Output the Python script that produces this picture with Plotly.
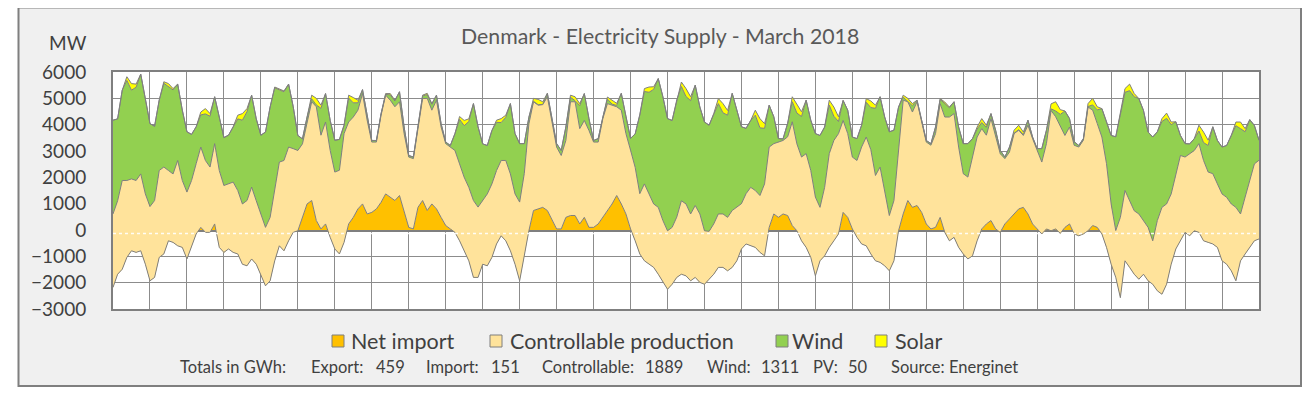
import plotly.graph_objects as go

# hour of month (3-hourly readings, 0..744)
hours = list(range(0, 745, 3))

net_import = [
 -2180, -1680, -1490, -1040, -790, -850, -790, -1300,
 -1930, -1800, -1040, -910, -410, -470, -600, -660,
 -1100, -660, -150, 100, -90, -90, 230, -660,
 -850, -720, -850, -910, -1300, -1360, -1100, -1300,
 -1680, -2120, -1930, -1170, -600, -790, -410, -90,
 -30, 480, 990, 1120, 360, 40, 230, -280,
 -720, -910, -470, 230, 480, 800, 990, 610,
 670, 800, 1050, 1370, 1250, 1120, 1310, 740,
 100, 40, 860, 1120, 740, 990, 800, 480,
 170, 40, -90, -410, -790, -1170, -1800, -1800,
 -1300, -1360, -1040, -530, -220, -410, -790, -1300,
 -1930, -910, -30, 740, 800, 860, 740, 360,
 40, 40, 480, 550, 550, 230, 480, 100,
 100, 230, 480, 740, 990, 1310, 990, 610,
 40, -410, -910, -1170, -1300, -1420, -1680, -1990,
 -2250, -2060, -1800, -1680, -1740, -1930, -1800, -1990,
 -2060, -1870, -1680, -1420, -1420, -1550, -1420, -1170,
 -720, -530, -600, -660, -850, -980, 100, 610,
 480, 610, 550, 170, -30, -410, -660, -1040,
 -1740, -1170, -980, -660, -410, -150, 670, 480,
 40, -280, -530, -600, -910, -1170, -1230, -1360,
 -1550, -1170, -30, 610, 1120, 860, 930, 670,
 230, 40, 100, 480, -90, -410, -280, -660,
 -910, -1100, -980, -410, 40, 230, 360, 40,
 -90, 230, 420, 610, 800, 860, 610, 230,
 40, -150, 40, -30, 40, -130, 100, 230,
 -150, -220, -150, -30, 170, 100, -150, -660,
 -1300, -1800, -2570, -1170, -1420, -1680, -1870, -1680,
 -1930, -2060, -2310, -2440, -2060, -1300, -720, -410,
 -90, -220, -30, -90, -410, -470, -530, -660,
 -1170, -1300, -1550, -1930, -1170, -910, -660, -410, -340]

controllable = [
 2790, 2790, 3370, 2920, 2730, 2730, 2920, 2670,
 2820, 2920, 3300, 3300, 2670, 2600, 3240, 2540,
 2540, 2540, 2670, 3050, 2730, 2480, 3050, 2920,
 2540, 2480, 2670, 2410, 2290, 2480, 2730, 2410,
 2290, 2220, 2410, 2790, 3180, 3430, 3560, 3180,
 3050, 2790, 3050, 3750, 4320, 3560, 3870, 3300,
 2920, 3180, 4130, 3870, 3810, 3750, 4190, 3560,
 2670, 2540, 3300, 3750, 3680, 3560, 3560, 2920,
 2670, 2670, 2990, 3870, 4260, 3560, 4130, 3430,
 3110, 3110, 3110, 2920, 2790, 2790, 2920, 2670,
 2410, 2730, 2790, 2790, 2860, 3050, 2920, 2670,
 2990, 3050, 4060, 4130, 3940, 3900, 4320, 3680,
 3110, 2790, 2920, 4320, 4320, 3620, 3680, 3680,
 3240, 3110, 3750, 4060, 3750, 3370, 3560, 3050,
 2990, 2790, 2290, 2920, 2670, 2410, 2540, 2350,
 2220, 2160, 2290, 2790, 2730, 2540, 2730, 2600,
 2030, 1820, 1910, 2030, 2030, 2030, 2160, 2030,
 1720, 1910, 2220, 2160, 2160, 2730, 3050, 2670,
 2860, 2790, 2990, 3940, 3300, 3180, 3560, 3300,
 2990, 2030, 2600, 3560, 3810, 3810, 3490, 3180,
 2730, 2920, 3680, 4130, 3960, 3240, 3620, 2860,
 2100, 2290, 3050, 4320, 3750, 3620, 3940, 3370,
 3110, 3180, 3560, 4320, 4380, 4700, 4700, 3810,
 3050, 3110, 3750, 3940, 3810, 3370, 3870, 3560,
 2990, 2480, 2540, 3050, 2990, 2730, 3370, 3240,
 2990, 2730, 3240, 4570, 4260, 4100, 3490, 3680,
 3370, 3370, 3560, 4700, 4380, 3940, 3680, 3180,
 2290, 1780, 3050, 2670, 2540, 2410, 2480, 2030,
 2030, 1650, 2670, 3300, 3050, 2670, 2860, 3240,
 2860, 3110, 3050, 3370, 3050, 2670, 2670, 2410,
 2540, 2540, 2540, 2790, 1780, 2160, 2540, 2920, 2990]

wind = [
 3560, 3110, 3430, 3800, 3370, 3540, 3790, 3560,
 3150, 2820, 2670, 3180, 3200, 3190, 2900, 2670,
 2290, 1750, 1400, 1220, 1770, 1930, 1780, 2030,
 1820, 1840, 2100, 2720, 3180, 3370, 3490, 3110,
 2990, 3620, 4190, 3780, 2740, 2610, 2390, 1590,
 570, 190, 250, 110, 70, 1020, 1080, 1140,
 1210, 1170, 320, 910, 540, 280, 150, 130,
 60, 60, 60, 30, 200, 220, 380, 250,
 60, 60, 60, 100, 140, 220, 190, 130,
 60, 60, 640, 1690, 1960, 2500, 3680, 3050,
 2160, 1840, 2030, 1830, 1440, 1640, 2670, 2290,
 2220, 1140, 250, 20, 20, 10, 130, 130,
 130, 190, 510, 170, 40, 870, 1020, 450,
 60, 130, 60, 170, 40, 50, 640, 640,
 450, 1270, 2990, 3510, 3860, 4350, 4890, 4700,
 4260, 4060, 4450, 4340, 4080, 4300, 4570, 4060,
 4130, 4030, 4190, 4190, 3840, 3880, 4450, 3680,
 2920, 2480, 2540, 2860, 2570, 2110, 1590, 1020,
 130, 60, 510, 760, 1170, 1540, 2030, 1910,
 2410, 2730, 2290, 1840, 920, 460, 760, 890,
 760, 830, 830, 1320, 1600, 2550, 2670, 2790,
 3180, 2670, 1650, 110, 10, 240, 60, 130,
 60, 60, 250, 160, 520, 350, 450, 760,
 1140, 1270, 700, 300, 230, 300, 190, 190,
 130, 60, 190, 20, 20, 30, 190, 60,
 60, 510, 510, 60, 220, 420, 930, 320,
 130, 60, 60, 20, 200, 520, 1080, 1590,
 2600, 3560, 3940, 3730, 4170, 4330, 4380, 4190,
 3620, 3940, 3370, 3260, 3250, 2630, 1970, 760,
 510, 380, 450, 480, 680, 1010, 1780, 1650,
 1780, 1970, 2600, 3100, 3240, 2480, 2310, 1460, 760]

solar = [
 0, 0, 0, 140, 250, 120, 0, 0,
 0, 0, 0, 60, 100, 50, 0, 0,
 0, 0, 0, 110, 200, 100, 0, 0,
 0, 0, 0, 140, 250, 120, 0, 0,
 0, 0, 0, 30, 50, 30, 0, 0,
 0, 0, 0, 140, 250, 120, 0, 0,
 0, 0, 0, 110, 200, 100, 0, 0,
 0, 0, 0, 30, 50, 30, 0, 0,
 0, 0, 0, 30, 50, 30, 0, 0,
 0, 0, 0, 110, 200, 100, 0, 0,
 0, 0, 0, 80, 150, 80, 0, 0,
 0, 0, 0, 110, 200, 100, 0, 0,
 0, 0, 0, 80, 150, 80, 0, 0,
 0, 0, 0, 80, 150, 80, 0, 0,
 0, 0, 0, 110, 200, 100, 0, 0,
 0, 0, 0, 170, 300, 150, 0, 0,
 0, 0, 0, 190, 350, 180, 0, 0,
 0, 0, 0, 190, 350, 180, 0, 0,
 0, 0, 0, 190, 350, 180, 0, 0,
 0, 0, 0, 190, 350, 180, 0, 0,
 0, 0, 0, 140, 250, 120, 0, 0,
 0, 0, 0, 80, 120, 80, 0, 0,
 0, 0, 0, 30, 50, 30, 0, 0,
 0, 0, 0, 80, 150, 80, 0, 0,
 0, 0, 0, 110, 170, 100, 0, 0,
 0, 0, 0, 190, 350, 180, 0, 0,
 0, 0, 0, 110, 250, 120, 0, 0,
 0, 0, 0, 140, 250, 120, 0, 0,
 0, 0, 0, 110, 200, 100, 0, 0,
 0, 0, 0, 220, 400, 200, 0, 0,
 0, 0, 0, 140, 250, 120, 0, 0,
 0]

series_names = ["Net import", "Controllable production", "Wind", "Solar"]
series_colors = ["#FFC000", "#FFE39B", "#92D050", "#FFFF00"]
title_text = "Denmark - Electricity Supply - March 2018"
footer_parts = ["Totals in GWh:", "Export:", "459", "Import:", "151", "Controllable:", "1889",
                "Wind:", "1311", "PV:", "50", "Source: Energinet"]
y_ticks = [-3000, -2000, -1000, 0, 1000, 2000, 3000, 4000, 5000, 6000]

FONT = "Lato"
TXT = "#404040"
LINE = "#7F7F7F"

fig = go.Figure()
for name, vals, col in zip(series_names, [net_import, controllable, wind, solar], series_colors):
    fig.add_trace(go.Scatter(
        x=hours, y=vals, name=name, mode="lines", stackgroup="one",
        line=dict(color=LINE, width=1), fillcolor=col, showlegend=False,
    ))

# the page body has an 8px margin; the figure is sized to fit inside the window
OFF = 8
W, H = 1294, 382
ml, mt = 113 - OFF, 72 - OFF
mr, mb = (W + OFF) - 1259, (H + OFF) - 309
pw, ph = W - ml - mr, H - mt - mb


def px(x):
    """page x (pixels) -> paper fraction"""
    return (x - OFF - ml) / pw


def py(y):
    """page y (pixels) -> paper fraction"""
    return (H + OFF - mb - y) / ph


shapes = []
# white strips outside the grey frame
shapes += [
    dict(type="rect", xref="paper", yref="paper", x0=px(0), x1=px(18), y0=py(400), y1=py(0),
         fillcolor="white", line=dict(width=0), layer="below"),
    dict(type="rect", xref="paper", yref="paper", x0=px(0), x1=px(1320), y0=py(7), y1=py(0),
         fillcolor="white", line=dict(width=0), layer="below"),
    dict(type="rect", xref="paper", yref="paper", x0=px(0), x1=px(1320), y0=py(400), y1=py(386),
         fillcolor="white", line=dict(width=0), layer="below"),
    dict(type="rect", xref="paper", yref="paper", x0=px(18.5), x1=px(1301), y0=py(386), y1=py(7.5),
         fillcolor="rgba(0,0,0,0)", line=dict(color=LINE, width=2), layer="above"),
]
# white dashes just under the zero line
shapes.append(dict(type="line", xref="x", yref="y", x0=0, x1=744, y0=-130, y1=-130,
                   line=dict(color="rgba(255,255,255,0.9)", width=1.5, dash="dot"), layer="above"))

annotations = [
    dict(text=title_text, x=px(660), y=py(36), xref="paper", yref="paper", showarrow=False,
         xanchor="center", yanchor="middle", font=dict(family=FONT, size=21.3, color="#595959")),
    dict(text="MW", x=px(68), y=py(43), xref="paper", yref="paper", showarrow=False,
         xanchor="center", yanchor="middle", font=dict(family=FONT, size=19, color=TXT)),
]

footer_x = [178, 309, 374, 424, 489, 540, 643, 705, 759, 811, 846, 889]
for fx, part in zip(footer_x, footer_parts):
    annotations.append(dict(text=part, x=px(fx), y=py(367), xref="paper", yref="paper",
                            showarrow=False, xanchor="left", yanchor="middle",
                            font=dict(family=FONT, size=16.5, color=TXT)))

legend_pos = [(332, 349), (490, 508), (776, 790), (875, 893)]
for (sx, tx), name, col in zip(legend_pos, series_names, series_colors):
    shapes.append(dict(type="rect", xref="paper", yref="paper", x0=px(sx), x1=px(sx + 12),
                       y0=py(347), y1=py(335), fillcolor=col, line=dict(color=LINE, width=1)))
    annotations.append(dict(text=name, x=px(tx), y=py(341), xref="paper", yref="paper",
                            showarrow=False, xanchor="left", yanchor="middle",
                            font=dict(family=FONT, size=21.5, color=TXT)))

fig.update_layout(
    width=W, height=H,
    margin=dict(l=ml, r=mr, t=mt, b=mb, pad=0),
    paper_bgcolor="#F0F0F0", plot_bgcolor="white",
    showlegend=False,
    shapes=shapes, annotations=annotations,
    xaxis=dict(range=[0, 744], tick0=0, dtick=24, showticklabels=False, ticks="",
               showgrid=True, gridcolor="#8C8C8C", gridwidth=1, zeroline=False,
               showline=True, mirror=True, linecolor=LINE, linewidth=2),
    yaxis=dict(range=[-3000, 6000], tickvals=y_ticks, ticks="", ticklabelstandoff=21,
               showgrid=True, gridcolor="#8C8C8C", gridwidth=1,
               zeroline=True, zerolinecolor=LINE, zerolinewidth=2.5,
               showline=True, mirror=True, linecolor=LINE, linewidth=2,
               tickfont=dict(family=FONT, size=19, color=TXT)),
)

fig.write_html("out.html")
